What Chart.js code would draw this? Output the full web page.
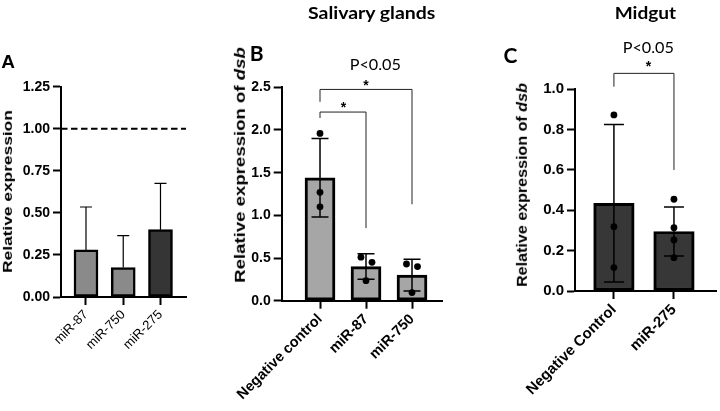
<!DOCTYPE html>
<html>
<head>
<meta charset="utf-8">
<script src="https://cdn.jsdelivr.net/npm/chart.js@4.4.1/dist/chart.umd.min.js"></script>
<style>
  body { margin: 0; background: #fff; }
  #wrap { position: relative; width: 720px; height: 411px; overflow: hidden; }
  canvas { position: absolute; left: 0; top: 0; }
  .t { position: absolute; white-space: nowrap; line-height: 1; color: #000; transform-origin: 50% 50%; }
</style>
</head>
<body>
<div id="wrap">
  <canvas id="chartA" width="720" height="411"></canvas>
  <canvas id="chartB" width="720" height="411"></canvas>
  <canvas id="chartC" width="720" height="411"></canvas>
</div>
<script>
// panel A - relative expression
const labelsA = ["miR-87", "miR-750", "miR-275"];
const meanA = [0.28, 0.175, 0.4];
const errA = [0.255, 0.19, 0.275];
const ticksA = [0, 0.25, 0.5, 0.75, 1.0, 1.25];
const refLineA = [1.0];

// panel B - salivary glands
const labelsB = ["Negative control", "miR-87", "miR-750"];
const meanB = [1.44, 0.4, 0.3];
const errB = [0.46, 0.15, 0.185];
const pointsB = [[1.96, 1.27, 1.1], [0.51, 0.45, 0.235], [0.43, 0.4, 0.095]];
const jitterB = [[0, 0, 0], [-0.11, 0.13, 0], [-0.12, 0.12, 0]];
const ticksB = [0, 0.5, 1.0, 1.5, 2.0, 2.5];
// [from, to, top, left leg end, right leg end]
const bracketsB = [[0, 1, 2.21, 2.14, 0.85], [0, 2, 2.475, 2.33, 1.13]];

// panel C - midgut
const labelsC = ["Negative Control", "miR-275"];
const meanC = [0.435, 0.295];
const errC = [0.39, 0.122];
const pointsC = [[0.873, 0.319, 0.116], [0.455, 0.314, 0.253, 0.165]];
const jitterC = [[0, 0, 0], [0, 0, 0, 0]];
const ticksC = [0, 0.2, 0.4, 0.6, 0.8, 1.0];
const bracketsC = [[0, 1, 1.079, 1.013, 0.6]];

const AXIS_FONT = "'Liberation Sans', Arial, sans-serif";

function makeExtras(p) {
  return {
    id: "extras",
    afterDatasetDraw(chart, args) {
      if (args.index !== 0) return;
      const ctx = chart.ctx;
      const x = chart.scales.x;
      const y = chart.scales.y;
      ctx.save();
      ctx.strokeStyle = "#000";
      ctx.lineWidth = p.errWidth;
      p.means.forEach((m, i) => {
        const px = x.getPixelForValue(i);
        const top = y.getPixelForValue(m + p.errs[i]);
        const bot = y.getPixelForValue(p.upOnly ? m : m - p.errs[i]);
        ctx.beginPath();
        ctx.moveTo(px, top);
        ctx.lineTo(px, bot);
        ctx.moveTo(px - p.cap / 2, top);
        ctx.lineTo(px + p.cap / 2, top);
        if (!p.upOnly) {
          ctx.moveTo(px - p.cap / 2, bot);
          ctx.lineTo(px + p.cap / 2, bot);
        }
        ctx.stroke();
      });
      ctx.restore();
    },
    afterDraw(chart) {
      const ctx = chart.ctx;
      const x = chart.scales.x;
      const y = chart.scales.y;
      const area = chart.chartArea;
      ctx.save();
      (p.refLines || []).forEach((v) => {
        const py = y.getPixelForValue(v);
        ctx.setLineDash([6.5, 3.5]);
        ctx.lineWidth = 2;
        ctx.strokeStyle = "#000";
        ctx.beginPath();
        ctx.moveTo(area.left, py);
        ctx.lineTo(area.right, py);
        ctx.stroke();
      });
      ctx.setLineDash([]);
      ctx.lineWidth = 1;
      ctx.strokeStyle = "#222";
      (p.brackets || []).forEach(([a, b, top, l, r]) => {
        const xa = x.getPixelForValue(a);
        const xb = x.getPixelForValue(b);
        ctx.beginPath();
        ctx.moveTo(xa, y.getPixelForValue(l));
        ctx.lineTo(xa, y.getPixelForValue(top));
        ctx.lineTo(xb, y.getPixelForValue(top));
        ctx.lineTo(xb, y.getPixelForValue(r));
        ctx.stroke();
      });
      ctx.restore();
    },
  };
}

function makePanel(p) {
  const datasets = [
    {
      type: "bar",
      data: p.means.map((v, i) => ({ x: i, y: v })),
      backgroundColor: p.colors,
      borderColor: "#000",
      borderWidth: p.borderWidth,
      borderSkipped: false,
      barThickness: p.barThickness,
      order: 2,
    },
  ];
  if (p.points) {
    datasets.push({
      type: "scatter",
      data: p.points.flatMap((arr, i) =>
        arr.map((v, k) => ({ x: i + p.jitter[i][k], y: v })),
      ),
      pointRadius: p.dotRadius,
      pointBackgroundColor: "#000",
      pointBorderWidth: 0,
      order: 1,
    });
  }

  // x axis takes all the room under the plot, so rotated labels are not clipped
  const xHeight = 411 - p.bottom;

  new Chart(document.getElementById(p.canvas), {
    type: "bar",
    data: { datasets: datasets },
    plugins: [makeExtras(p)],
    options: {
      responsive: false,
      animation: false,
      devicePixelRatio: 1,
      events: [],
      layout: {
        padding: {
          left: p.left - 50,
          right: 720 - p.right,
          top: p.top,
          bottom: 0,
        },
      },
      plugins: {
        legend: { display: false },
        tooltip: { enabled: false },
      },
      scales: {
        x: {
          type: "linear",
          min: p.xmin,
          max: p.xmax,
          offset: false,
          afterBuildTicks: (s) => {
            s.ticks = p.labels.map((l, i) => ({ value: i }));
          },
          afterFit: (s) => {
            s.height = xHeight;
            s.paddingLeft = 0;
            s.paddingRight = 0;
          },
          ticks: {
            callback: (v) => p.labels[Math.round(v)],
            autoSkip: false,
            minRotation: 45,
            maxRotation: 45,
            color: "#000",
            padding: 2,
            font: p.xFont,
          },
          grid: {
            display: true,
            drawOnChartArea: false,
            drawTicks: true,
            tickLength: 8,
            tickWidth: 2,
            tickColor: "#000",
            offset: false,
          },
          border: { display: true, color: "#000", width: 2 },
        },
        y: {
          min: p.ticks[0],
          max: p.ticks[p.ticks.length - 1],
          afterBuildTicks: (s) => {
            s.ticks = p.ticks.map((v) => ({ value: v }));
          },
          afterFit: (s) => {
            s.width = 50;
          },
          ticks: {
            callback: (v) => v.toFixed(p.decimals),
            color: "#000",
            padding: 3,
            font: p.yFont,
          },
          grid: {
            display: true,
            drawOnChartArea: false,
            drawTicks: true,
            tickLength: 8,
            tickWidth: 2,
            tickColor: "#000",
          },
          border: { display: true, color: "#000", width: 2 },
        },
      },
    },
  });
}

makePanel({
  canvas: "chartA",
  labels: labelsA, means: meanA, errs: errA, ticks: ticksA, refLines: refLineA,
  colors: ["#8a8a8a", "#8a8a8a", "#353535"],
  left: 61, right: 186, top: 86.7, bottom: 297,
  xmin: -0.671, xmax: 2.685,
  barThickness: 24, borderWidth: 2.5, errWidth: 1.2, cap: 12, upOnly: true,
  decimals: 2,
  yFont: { family: AXIS_FONT, size: 14, weight: "bold" },
  xFont: { family: AXIS_FONT, size: 13, weight: "normal" },
});

makePanel({
  canvas: "chartB",
  labels: labelsB, means: meanB, errs: errB, ticks: ticksB,
  points: pointsB, jitter: jitterB, brackets: bracketsB,
  colors: ["#a6a6a6", "#a6a6a6", "#a6a6a6"],
  left: 281.7, right: 443, top: 87.3, bottom: 300.7,
  xmin: -0.833, xmax: 2.674,
  barThickness: 30, borderWidth: 3, errWidth: 1.5, cap: 17, upOnly: false,
  dotRadius: 3.4, decimals: 1,
  yFont: { family: AXIS_FONT, size: 14, weight: "bold" },
  xFont: { family: AXIS_FONT, size: 14.5, weight: "bold" },
});

makePanel({
  canvas: "chartC",
  labels: labelsC, means: meanC, errs: errC, ticks: ticksC,
  points: pointsC, jitter: jitterC, brackets: bracketsC,
  colors: ["#373737", "#373737"],
  left: 575, right: 720, top: 89.3, bottom: 291,
  xmin: -0.648, xmax: 1.70,
  barThickness: 40.5, borderWidth: 3, errWidth: 1.5, cap: 20, upOnly: false,
  dotRadius: 3.4, decimals: 1,
  yFont: { family: AXIS_FONT, size: 15, weight: "bold" },
  xFont: { family: AXIS_FONT, size: 15, weight: "bold" },
});

// html text: titles, panel letters, axis titles, significance marks
const wrap = document.getElementById("wrap");
function addText(html, cx, cy, font, targetW, rot) {
  const d = document.createElement("div");
  d.className = "t";
  d.style.font = font;
  d.innerHTML = html;
  wrap.appendChild(d);
  const w = d.offsetWidth;
  const h = d.offsetHeight;
  d.style.left = cx - w / 2 + "px";
  d.style.top = cy - h / 2 + "px";
  const sx = targetW ? targetW / w : 1;
  d.style.transform = `rotate(${rot || 0}deg) scaleX(${sx})`;
}

const TITLE_FONT = "Lato, 'Open Sans', sans-serif";
addText("Salivary glands", 371.7, 12, `bold 17px ${TITLE_FONT}`, 127);
addText("Midgut", 645.8, 12, `bold 17px ${TITLE_FONT}`, 61.7);
addText("A", 8.3, 61.7, `bold 19px ${AXIS_FONT}`);
addText("B", 256.7, 52.5, `bold 21px ${TITLE_FONT}`);
addText("C", 510.5, 54, `bold 21px ${TITLE_FONT}`);
addText("Relative expression", 7.5, 191.5, `bold 13.5px ${AXIS_FONT}`, 163, -90);
addText("Relative expression of <i>dsb</i>", 240, 165, `bold 14.5px ${AXIS_FONT}`, 236, -90);
addText("Relative expression of <i>dsb</i>", 521.7, 185, `bold 14.5px ${AXIS_FONT}`, 204, -90);
addText("P&lt;0.05", 375.8, 63.3, `16px ${TITLE_FONT}`, 51.7);
addText("P&lt;0.05", 648.3, 46.7, `16px ${TITLE_FONT}`, 51.7);
addText("*", 365.7, 84.5, `bold 14px ${AXIS_FONT}`);
addText("*", 343.3, 107, `bold 14px ${AXIS_FONT}`);
addText("*", 648.3, 66.3, `bold 14px ${AXIS_FONT}`);
</script>
</body>
</html>
